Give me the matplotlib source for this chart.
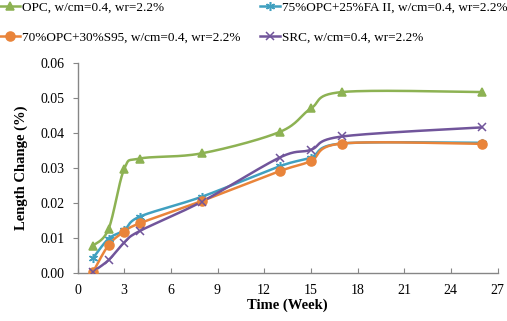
import numpy as np
import matplotlib
matplotlib.use("Agg")
import matplotlib.pyplot as plt

weeks = [1, 2, 3, 4, 8, 13, 15, 17, 26]
opc = [0.0078, 0.0126, 0.0297, 0.0327, 0.0342, 0.0403, 0.0470, 0.0517, 0.0517]
fa = [0.0043, 0.0098, 0.0122, 0.0161, 0.0218, 0.0305, 0.0330, 0.0370, 0.0372]
s95 = [0.0003, 0.0080, 0.0118, 0.0142, 0.0206, 0.0291, 0.0320, 0.0370, 0.0369]
src = [0.0004, 0.0037, 0.0087, 0.0120, 0.0204, 0.0330, 0.0352, 0.0390, 0.0416]
labels = ["OPC, w/cm=0.4, wr=2.2%",
          "75%OPC+25%FA II, w/cm=0.4, wr=2.2%",
          "70%OPC+30%S95, w/cm=0.4, wr=2.2%",
          "SRC, w/cm=0.4, wr=2.2%"]
colors = ["#8DB253", "#40A0C0", "#E9843A", "#71559B"]
markers = ["^", (6, 2, 0), "o", "x"]
msizes = [6, 6.5, 6.5, 6]

plt.rcParams['font.family'] = ['Liberation Serif', 'DejaVu Serif']

fig = plt.figure(figsize=(5.07, 3.21), dpi=100)
W, H = 507, 321
ax = fig.add_axes([77.5 / W, (H - 273) / H, 420 / W, 210 / H])
ax.set_xlim(0, 27)
ax.set_ylim(0, 0.06)


def smooth(x, y, n=30):
    # Excel-like smoothed line (Bezier through points) in display-like units
    sx, sy = 420 / 27, 210 / 0.06
    P = np.column_stack([np.asarray(x) * sx, np.asarray(y) * sy])
    out = [P[0]]
    m = len(P)
    for i in range(m - 1):
        p0 = P[i - 1] if i > 0 else P[i]
        p1, p2 = P[i], P[i + 1]
        p3 = P[i + 2] if i + 2 < m else P[i + 1]
        c1 = p1 + (p2 - p0) / 6
        c2 = p2 - (p3 - p1) / 6
        t = np.linspace(0, 1, n)[1:, None]
        seg = ((1 - t) ** 3) * p1 + 3 * ((1 - t) ** 2) * t * c1 + 3 * (1 - t) * t ** 2 * c2 + t ** 3 * p2
        out.extend(seg)
    out = np.array(out)
    return out[:, 0] / sx, out[:, 1] / sy


series = [opc, fa, s95, src]
handles = []
for vals, c, mk, lab, ms in zip(series, colors, markers, labels, msizes):
    xs, ys = smooth(weeks, vals)
    ax.plot(xs, ys, color=c, lw=1.8, solid_capstyle='round', zorder=2)
    ax.plot(weeks, vals, linestyle='none', marker=mk, color=c, ms=ms,
            mec=c, mew=1.1, zorder=3)
    h, = ax.plot([], [], color=c, lw=1.8, marker=mk, ms=ms, mec=c, mew=1.1, label=lab)
    handles.append(h)

ax.set_xticks(np.arange(0, 28, 3))
ax.set_yticks(np.arange(0, 0.061, 0.01))
ax.yaxis.set_major_formatter(matplotlib.ticker.FormatStrFormatter('%.2f'))
for s in ['top', 'right']:
    ax.spines[s].set_visible(False)
for s in ['left', 'bottom']:
    ax.spines[s].set_color('#868686')
    ax.spines[s].set_linewidth(1.0)
ax.tick_params(axis='y', direction='out', length=3.5, color='#868686', labelsize=10,
               labelcolor='black', pad=6)
ax.tick_params(axis='x', direction='in', length=3.5, color='#868686', labelsize=10,
               labelcolor='black', pad=8)
ax.set_xlabel("Time (Week)", fontsize=10.5, fontweight='bold', labelpad=1)
ax.set_ylabel("Length Change (%)", fontsize=10.5, fontweight='bold', labelpad=9)

order = [0, 2, 1, 3]
fig.legend([handles[i] for i in order], [labels[i] for i in order],
           loc='upper left', bbox_to_anchor=(0.0, 0.996), ncol=2,
           frameon=False, fontsize=9.5, handlelength=1.55, handletextpad=0.12,
           columnspacing=1.45, labelspacing=1.33, borderpad=0, borderaxespad=0)

fig.savefig("out.png", dpi=100)
